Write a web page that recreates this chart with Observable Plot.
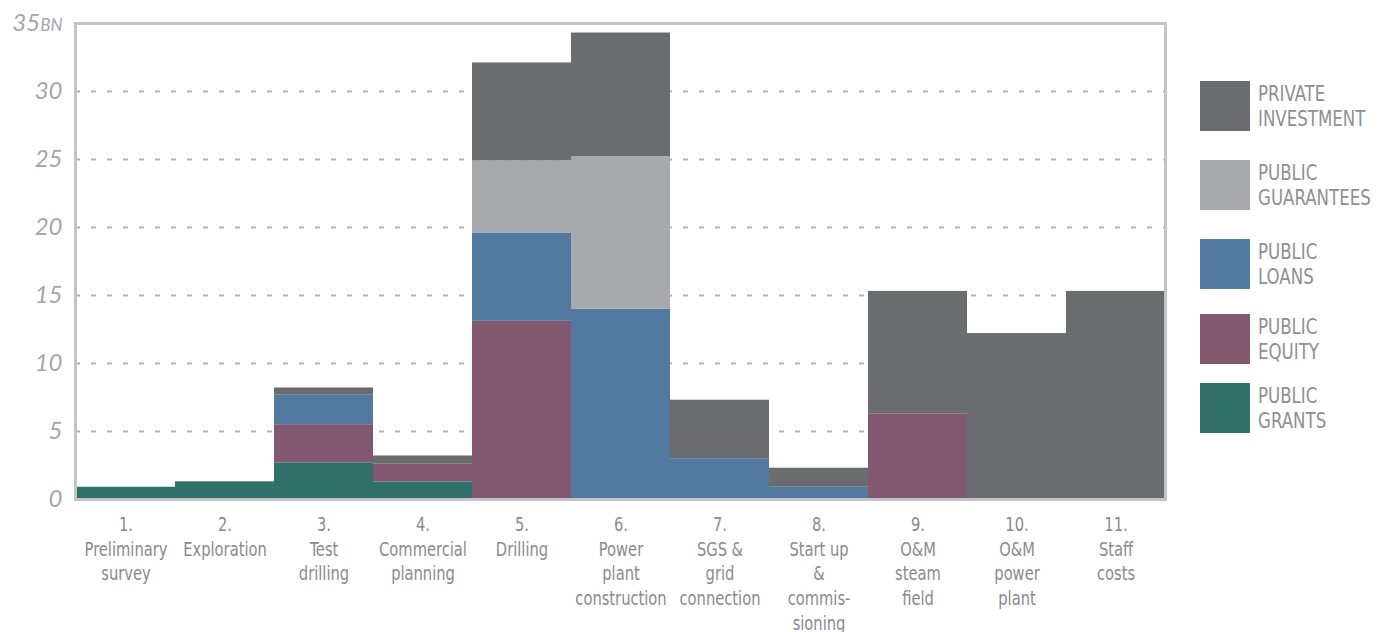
<!DOCTYPE html>
<html><head><meta charset="utf-8">
<script src="https://cdn.jsdelivr.net/npm/d3@7"></script>
<script src="https://cdn.jsdelivr.net/npm/@observablehq/plot@0.6"></script>
<style>
body{margin:0;background:#fff;}
#wrap{position:relative;width:1392px;height:632px;overflow:hidden;}
#legend{position:absolute;left:1200px;top:0;}
.item{position:absolute;left:0;width:190px;height:50px;}
.sw{position:absolute;left:0;top:0;width:50px;height:50px;}
.lb{position:absolute;left:58px;top:1px;font-family:"DejaVu Sans Condensed","DejaVu Sans",sans-serif;font-stretch:condensed;font-size:21px;line-height:25px;color:#8f8f93;white-space:nowrap;transform:scaleX(0.88);transform-origin:0 0;}
g[aria-label="x-axis tick label"]{font-family:"DejaVu Sans Condensed","DejaVu Sans",sans-serif;font-stretch:condensed;font-size:19px;fill:#8a8a8e;}
g[aria-label="y-axis tick label"]{font-family:Lato,"Open Sans",sans-serif;font-style:italic;font-size:24px;fill:#a6a6aa;}
</style></head>
<body><div id="wrap"><div id="legend"></div></div>
<script>
const stages = ["1.\nPreliminary\nsurvey","2.\nExploration","3.\nTest\ndrilling","4.\nCommercial\nplanning","5.\nDrilling","6.\nPower\nplant\nconstruction","7.\nSGS &\ngrid\nconnection","8.\nStart up\n&\ncommis-\nsioning","9.\nO&M\nsteam\nfield","10.\nO&M\npower\nplant","11.\nStaff\ncosts"];
const grants     = [0.9, 1.3, 2.7, 1.3, 0,    0,    0,   0,   0,   0,    0];
const equity     = [0,   0,   2.8, 1.3, 13.1, 0,    0,   0,   6.3, 0,    0];
const loans      = [0,   0,   2.2, 0,   6.5,  14.0, 3.0, 0.9, 0,   0,    0];
const guarantees = [0,   0,   0,   0,   5.3,  11.2, 0,   0,   0,   0,    0];
const privateInv = [0,   0,   0.5, 0.6, 7.2,  9.1,  4.3, 1.4, 9.0, 12.2, 15.3];
const seriesNames = ["PUBLIC GRANTS","PUBLIC EQUITY","PUBLIC LOANS","PUBLIC GUARANTEES","PRIVATE INVESTMENT"];
const seriesColors = ["#317068","#82586f","#52799f","#a8a9ad","#6b6c70"];
const yTicks = [0,5,10,15,20,25,30,35];
const gridTicks = [5,10,15,20,25,30];

const seriesValues = [grants, equity, loans, guarantees, privateInv];
const rows = stages.flatMap((s,i)=>seriesNames.map((n,j)=>({stage:s, series:n, value:seriesValues[j][i]})));

const chart = Plot.plot({
  width:1392, height:632,
  marginLeft:75, marginRight:227, marginTop:23, marginBottom:133,
  x:{domain:stages, padding:0, axis:null, label:null},
  y:{domain:[0,35], axis:null, label:null},
  color:{domain:seriesNames, range:seriesColors},
  marks:[
    Plot.gridY(gridTicks,{stroke:"#b4b4b8", strokeOpacity:1, strokeWidth:2, strokeDasharray:"5,11"}),
    Plot.barY(rows,{x:"stage", y:"value", fill:"series", order:seriesNames}),
    Plot.frame({stroke:"#c4c4c8", strokeWidth:3}),
    Plot.axisX({tickSize:0, tickPadding:14, lineHeight:1.3, label:null, tickFormat:d=>d}),
    Plot.axisY(yTicks,{tickSize:0, tickPadding:13, label:null, tickFormat:d=>d===35?"35BN":String(d)})
  ]
});
document.getElementById("wrap").prepend(chart);
d3.select(chart).selectAll('g[aria-label="y-axis tick label"] text').each(function(){
  if(this.textContent==="35BN"){
    const t=d3.select(this); t.text("35");
    t.append("tspan").attr("font-size","17px").text("BN");
  }
});
d3.select(chart).selectAll('g[aria-label="x-axis tick label"] text').each(function(){
  const tr=this.getAttribute("transform")||"";
  this.setAttribute("transform", tr+" scale(0.86,1)");
});
const legendTops=[81,160,239,314,383];
const leg=d3.select("#legend");
const order=seriesNames.slice().reverse();
const cols=seriesColors.slice().reverse();
order.forEach((n,i)=>{
  const it=leg.append("div").attr("class","item").style("top",legendTops[i]+"px");
  it.append("div").attr("class","sw").style("background",cols[i]);
  const words=n.split(" ");
  it.append("div").attr("class","lb").html(words[0]+"<br>"+words.slice(1).join(" "));
});
</script></body></html>
